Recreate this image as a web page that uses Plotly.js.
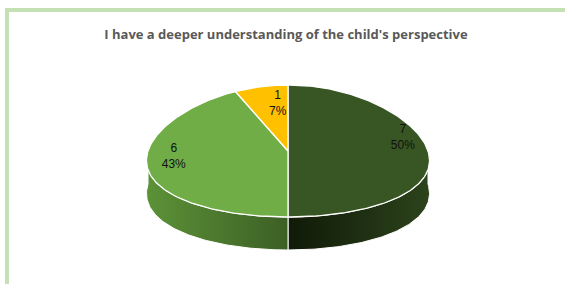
<!DOCTYPE html>
<html>
<head>
<meta charset="utf-8">
<script src="https://cdn.plot.ly/plotly-3.0.1.min.js"></script>
<style>html,body{margin:0;padding:0;background:#fff;}#chart{width:565px;height:284px;}</style>
</head>
<body>
<div id="chart"></div>
<script>
// ---- data ----
const titleText = "I have a deeper understanding of the child's perspective";
const values = [7, 6, 1];
const labels = ['7', '6', '1'];

// ---- styling / geometry (not data) ----
const topColors = ['#375623', '#70ad47', '#ffc000'];
const sideGradients = [
  [[0, '#101a08'], [1, '#2c431b']],
  [[0, '#5c9237'], [1, '#3c5f25']],
  [[0, '#c79400'], [1, '#8f6b00']]
];
const cx = 288, cy = 151, rx = 140, ry = 66, depth = 33, persp = 0.15;
const labelOffsets = [[0.82, 0, -13], [0.815, 0, -6], [0.73, 10, 0]];

const total = values.reduce((a, b) => a + b, 0);
function pt(th, dy, f) {
  f = f === undefined ? 1 : f;
  const c = Math.cos(th) * f;
  return [cx + rx * f * Math.sin(th) * (1 - persp * c), cy - ry * c + (dy || 0)];
}
function arc(a, b, dy) {
  const n = Math.max(2, Math.ceil((b - a) / (Math.PI / 180)));
  const xs = [], ys = [];
  for (let i = 0; i <= n; i++) { const p = pt(a + (b - a) * i / n, dy); xs.push(p[0]); ys.push(p[1]); }
  return [xs, ys];
}

const sides = [], tops = [];
const lx = [], ly = [], lt = [];
let start = 0;
values.forEach((v, i) => {
  const a = start, b = start + v / total * 2 * Math.PI;
  start = b;
  // front side (visible where angle is between PI/2 and 3PI/2)
  const sa = Math.max(a, Math.PI / 2), sb = Math.min(b, 3 * Math.PI / 2);
  if (sb > sa) {
    const t = arc(sa, sb, 0), btm = arc(sa, sb, depth);
    sides.push({
      type: 'scatter', mode: 'lines', hoverinfo: 'skip',
      x: t[0].concat(btm[0].slice().reverse(), [t[0][0]]),
      y: t[1].concat(btm[1].slice().reverse(), [t[1][0]]),
      fill: 'toself',
      fillgradient: { type: 'horizontal', colorscale: sideGradients[i] },
      line: { color: '#ffffff', width: 1 }
    });
  }
  const t = arc(a, b, 0);
  tops.push({
    type: 'scatter', mode: 'lines', hoverinfo: 'skip',
    x: [cx].concat(t[0], [cx]), y: [cy].concat(t[1], [cy]),
    fill: 'toself', fillcolor: topColors[i],
    line: { color: '#ffffff', width: 1.3 }
  });
  const mid = (a + b) / 2, o = labelOffsets[i];
  const p = pt(mid, 0, o[0]);
  lx.push(p[0] + o[1]);
  ly.push(p[1] + o[2]);
  lt.push(labels[i] + '<br>' + Math.round(v / total * 100) + '%');
});

const labelTrace = {
  type: 'scatter', mode: 'text', hoverinfo: 'skip',
  x: lx, y: ly, text: lt, textposition: 'middle center',
  textfont: { family: 'Liberation Sans, Arial, sans-serif', size: 12, color: '#111111' }
};

const layout = {
  width: 565, height: 284,
  margin: { l: 0, r: 0, t: 0, b: 0 },
  paper_bgcolor: '#ffffff', plot_bgcolor: '#ffffff',
  showlegend: false,
  title: {
    text: titleText, x: 286 / 565, xanchor: 'center', y: 1 - 34 / 284, yanchor: 'middle',
    yref: 'paper',
    font: { family: 'Open Sans, sans-serif', size: 13, color: '#595959', weight: 'bold' }
  },
  xaxis: { range: [0, 565], visible: false, fixedrange: true },
  yaxis: { range: [284, 0], visible: false, fixedrange: true },
  shapes: [{
    type: 'rect', xref: 'x', yref: 'y', x0: 7, y0: 10, x1: 620, y1: 340,
    line: { color: '#c5e0b4', width: 4 }, fillcolor: 'rgba(0,0,0,0)', layer: 'below'
  }]
};

Plotly.newPlot('chart', sides.concat(tops, [labelTrace]), layout, { displayModeBar: false, staticPlot: true });
</script>
</body>
</html>
